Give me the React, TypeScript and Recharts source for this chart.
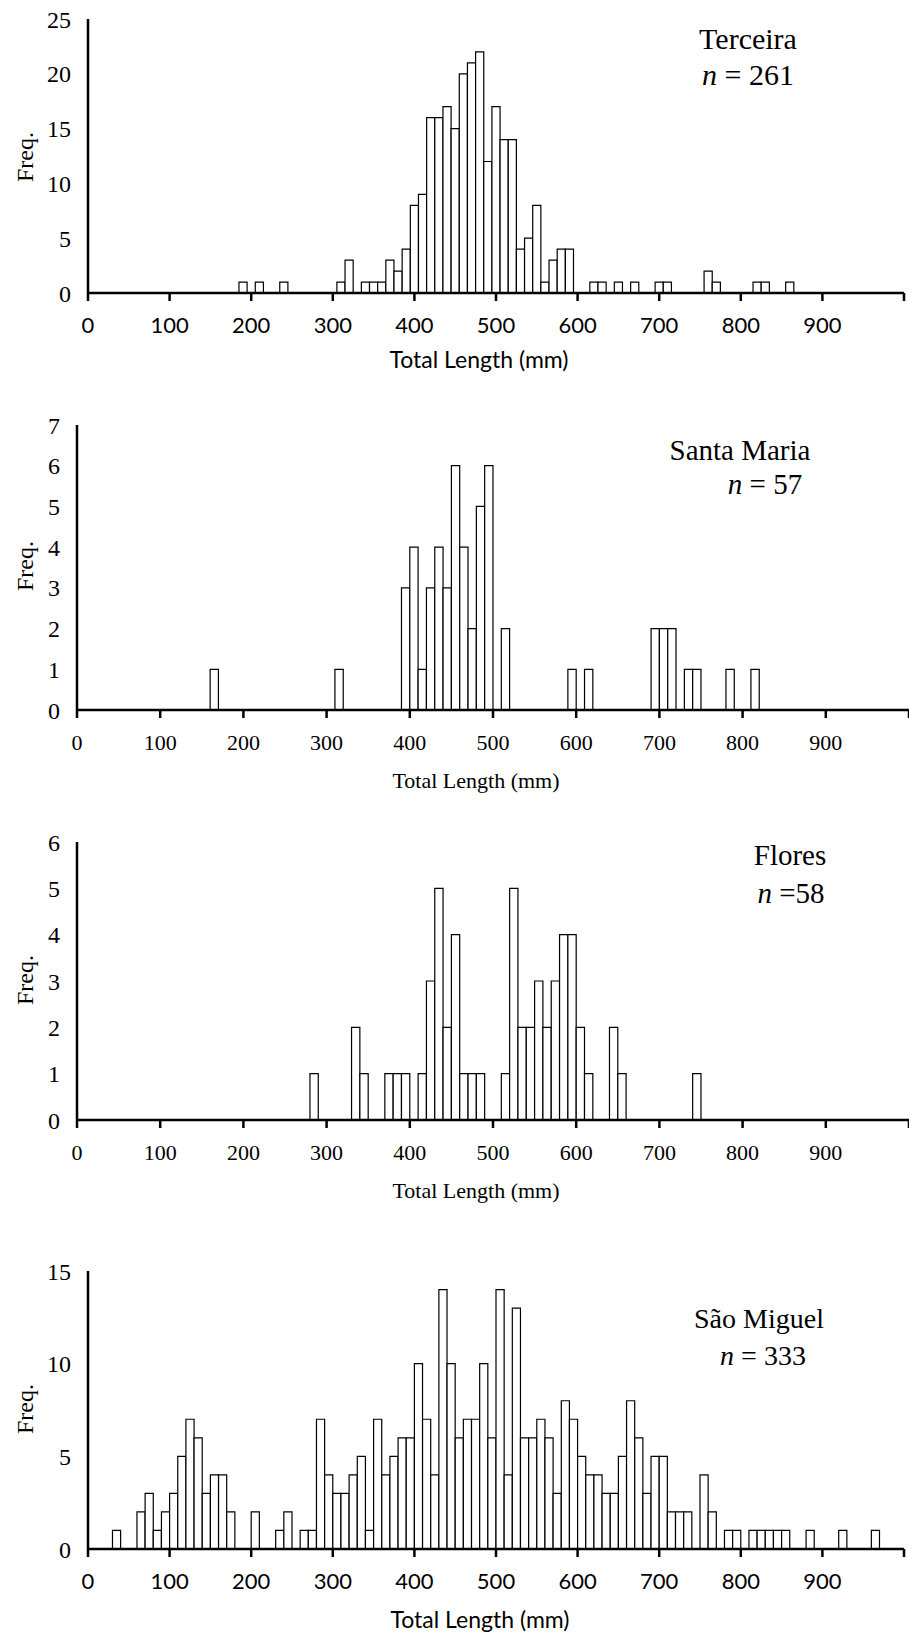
import React from 'react';
import { BarChart, Bar, XAxis, YAxis } from 'recharts';

// ---- Data (bin centre in mm, frequency) ----
const terceiraBins = [190, 210, 240, 310, 320, 340, 350, 360, 370, 380, 390, 400, 410, 420, 430, 440, 450, 460, 470, 480, 490, 500, 510, 520, 530, 540, 550, 560, 570, 580, 590, 620, 630, 650, 670, 700, 710, 760, 770, 820, 830, 860];
const terceiraFreq = [1, 1, 1, 1, 3, 1, 1, 1, 3, 2, 4, 8, 9, 16, 16, 17, 15, 20, 21, 22, 12, 17, 14, 14, 4, 5, 8, 1, 3, 4, 4, 1, 1, 1, 1, 1, 1, 2, 1, 1, 1, 1];

const santaMariaBins = [165, 315, 395, 405, 415, 425, 435, 445, 455, 465, 475, 485, 495, 515, 595, 615, 695, 705, 715, 735, 745, 785, 815];
const santaMariaFreq = [1, 1, 3, 4, 1, 3, 4, 3, 6, 4, 2, 5, 6, 2, 1, 1, 2, 2, 2, 1, 1, 1, 1];

const floresBins = [285, 335, 345, 375, 385, 395, 415, 425, 435, 445, 455, 465, 475, 485, 515, 525, 535, 545, 555, 565, 575, 585, 595, 605, 615, 645, 655, 745];
const floresFreq = [1, 2, 1, 1, 1, 1, 1, 3, 5, 2, 4, 1, 1, 1, 1, 5, 2, 2, 3, 2, 3, 4, 4, 2, 1, 2, 1, 1];

const saoMiguelBins = [35, 65, 75, 85, 95, 105, 115, 125, 135, 145, 155, 165, 175, 205, 235, 245, 265, 275,
  285, 295, 305, 315, 325, 335, 345, 355, 365, 375, 385, 395,
  405, 415, 425, 435, 445, 455, 465, 475, 485, 495,
  505, 515, 525, 535, 545, 555, 565, 575, 585, 595,
  605, 615, 625, 635, 645, 655, 665, 675, 685, 695,
  705, 715, 725, 735, 755, 765, 785, 795, 815, 825, 835, 845, 855, 885, 925, 965];
const saoMiguelFreq = [1, 2, 3, 1, 2, 3, 5, 7, 6, 3, 4, 4, 2, 2, 1, 2, 1, 1,
  7, 4, 3, 3, 4, 5, 1, 7, 4, 5, 6, 6,
  10, 7, 4, 14, 10, 6, 7, 7, 10, 6,
  14, 4, 13, 6, 6, 7, 6, 3, 8, 7,
  5, 4, 4, 3, 3, 5, 8, 6, 3, 5,
  5, 2, 2, 2, 4, 2, 1, 1, 1, 1, 1, 1, 1, 1, 1, 1];

const xTicks = [0, 100, 200, 300, 400, 500, 600, 700, 800, 900, 1000];
const yTicksTerceira = [0, 5, 10, 15, 20, 25];
const yTicksSantaMaria = [0, 1, 2, 3, 4, 5, 6, 7];
const yTicksFlores = [0, 1, 2, 3, 4, 5, 6];
const yTicksSaoMiguel = [0, 5, 10, 15];

const build = (bins: number[], freq: number[]) => bins.map((b, i) => ({ len: b, freq: freq[i] }));

const SERIF = '"Liberation Serif", "Times New Roman", serif';
const SANS = 'Lato, "Open Sans", sans-serif';

type PanelProps = {
  data: { len: number; freq: number }[];
  top: number;
  height: number;
  plotTop: number;
  plotBottom: number;
  left: number;
  right: number;
  yMax: number;
  yTicks: number[];
  xFont: string;
  xFontSize: number;
};

const YW = 60;
const XH = 40;

function Panel(p: PanelProps) {
  const plotW = p.right - p.left;
  const barSize = (plotW * 10) / 1000 - 0.02;
  const axisStyle = { stroke: '#000', strokeWidth: 2.5 };
  return (
    <div style={{ position: 'absolute', left: 0, top: p.top, width: 909, height: p.height }}>
      <BarChart
        width={909}
        height={p.height}
        data={p.data}
        barSize={barSize}
        margin={{ top: p.plotTop, right: 909 - p.right, bottom: p.height - p.plotBottom - XH, left: p.left - YW }}
      >
        <XAxis
          type="number"
          dataKey="len"
          domain={[0, 1000]}
          ticks={xTicks}
          interval={0}
          allowDataOverflow
          height={XH}
          axisLine={axisStyle}
          tickLine={axisStyle}
          tickSize={8}
          tickMargin={16}
          tickFormatter={(v: number) => (v === 1000 ? '' : String(v))}
          tick={{ fill: '#000', fontSize: p.xFontSize, fontFamily: p.xFont }}
        />
        <YAxis
          type="number"
          domain={[0, p.yMax]}
          ticks={p.yTicks}
          interval={0}
          width={YW}
          axisLine={axisStyle}
          tickLine={false}
          tickSize={0}
          tickMargin={17}
          tick={{ fill: '#000', fontSize: 24, fontFamily: SERIF }}
        />
        <Bar dataKey="freq" fill="#fff" stroke="#000" strokeWidth={1.2} isAnimationActive={false} />
      </BarChart>
    </div>
  );
}

function Label({ x, y, children, size = 30, font = SERIF, rotate = false }: any) {
  return (
    <text
      x={x}
      y={y}
      textAnchor="middle"
      dominantBaseline="central"
      fontFamily={font}
      fontSize={size}
      fill="#000"
      transform={rotate ? `rotate(-90 ${x} ${y})` : undefined}
    >
      {children}
    </text>
  );
}

export default function App() {
  return (
    <div style={{ position: 'absolute', left: 0, top: 0, width: 909, height: 1636, background: '#fff', overflow: 'hidden' }}>
      <Panel data={build(terceiraBins, terceiraFreq)} top={0} height={380} plotTop={19} plotBottom={293} left={88} right={904}
        yMax={25} yTicks={yTicksTerceira} xFont={SANS} xFontSize={22} />
      <Panel data={build(santaMariaBins, santaMariaFreq)} top={380} height={410} plotTop={45} plotBottom={330} left={77} right={909}
        yMax={7} yTicks={yTicksSantaMaria} xFont={SERIF} xFontSize={22} />
      <Panel data={build(floresBins, floresFreq)} top={790} height={420} plotTop={52} plotBottom={330} left={77} right={909}
        yMax={6} yTicks={yTicksFlores} xFont={SERIF} xFontSize={22} />
      <Panel data={build(saoMiguelBins, saoMiguelFreq)} top={1210} height={426} plotTop={61} plotBottom={339} left={88} right={904}
        yMax={15} yTicks={yTicksSaoMiguel} xFont={SANS} xFontSize={22} />
      <svg width={909} height={1636} style={{ position: 'absolute', left: 0, top: 0, pointerEvents: 'none' }}>
        <Label x={25} y={157} size={24} rotate>Freq.</Label>
        <Label x={748} y={38} size={30}>Terceira</Label>
        <Label x={748} y={74} size={30}><tspan fontStyle="italic">n</tspan> = 261</Label>
        <Label x={479} y={359} size={23} font={SANS}>Total Length (mm)</Label>

        <Label x={25} y={566} size={24} rotate>Freq.</Label>
        <Label x={740} y={450} size={29}>Santa Maria</Label>
        <Label x={765} y={484} size={29}><tspan fontStyle="italic">n</tspan> = 57</Label>
        <Label x={476} y={780} size={22}>Total Length (mm)</Label>

        <Label x={25} y={980} size={24} rotate>Freq.</Label>
        <Label x={790} y={855} size={29}>Flores</Label>
        <Label x={791} y={893} size={29}><tspan fontStyle="italic">n</tspan> =58</Label>
        <Label x={476} y={1190} size={22}>Total Length (mm)</Label>

        <Label x={25} y={1409} size={24} rotate>Freq.</Label>
        <Label x={759} y={1318} size={28}>São Miguel</Label>
        <Label x={763} y={1355} size={28}><tspan fontStyle="italic">n</tspan> = 333</Label>
        <Label x={480} y={1619} size={23} font={SANS}>Total Length (mm)</Label>
      </svg>
    </div>
  );
}
